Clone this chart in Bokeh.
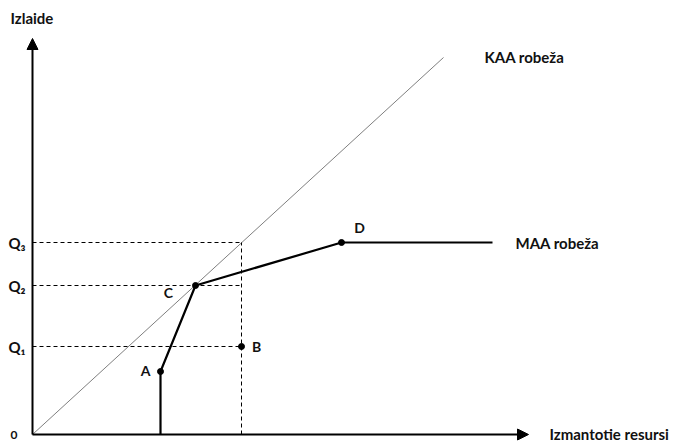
from bokeh.plotting import figure
from bokeh.models import Arrow, NormalHead, Range1d
from bokeh.core.properties import value
from bokeh.embed import file_html
from bokeh.resources import INLINE

# Diagram values (abstract units, origin at 0)
q_levels = [88, 149, 192]           # Q1, Q2, Q3
q_labels = ["Q\u2081", "Q\u2082", "Q\u2083"]
pt_names = ["A", "B", "C", "D"]
pt_x = [128, 209, 163, 309]
pt_y = [63, 88, 149, 192]
maa_x = [128, 128, 163, 309, 460]
maa_y = [0, 63, 149, 192, 192]
kaa_x = [0, 411]
kaa_y = [0, 377]
b_vert_x = [209, 209]
b_vert_y = [0, 192]
x_axis_end = 496
y_axis_end = 396

FONT = value("Lato")

p = figure(width=677, height=442, output_backend="svg", toolbar_location=None,
           x_range=Range1d(-32, 645), y_range=Range1d(-8, 434), min_border=0)
p.axis.visible = False
p.grid.visible = False
p.outline_line_color = None

# axes with arrows
p.add_layout(Arrow(end=NormalHead(size=11, fill_color="black", line_color="black"),
                   x_start=0, y_start=0, x_end=x_axis_end, y_end=0, line_width=2))
p.add_layout(Arrow(end=NormalHead(size=11, fill_color="black", line_color="black"),
                   x_start=0, y_start=0, x_end=0, y_end=y_axis_end, line_width=2))

# KAA boundary
p.line(kaa_x, kaa_y, line_color="#7f7f7f", line_width=1)

# dashed guide lines
for q in q_levels:
    p.line([0, b_vert_x[0]], [q, q], line_color="black", line_width=1, line_dash="4 3")
p.line(b_vert_x, b_vert_y, line_color="black", line_width=1, line_dash="4 3")

# MAA boundary
p.line(maa_x, maa_y, line_color="black", line_width=2.2)

# points
p.scatter(pt_x, pt_y, size=6, color="black")

tc = "#111111"
# point labels
lab_dx = [-15, 15, -27, 18]
lab_dy = [1, 0, -7, 15]
p.text([x + dx for x, dx in zip(pt_x, lab_dx)], [y + dy for y, dy in zip(pt_y, lab_dy)],
       text=pt_names, text_font=FONT, text_font_style="bold", text_font_size="14px",
       text_align="center", text_baseline="middle", text_color=tc)

# Q labels
p.text([-24] * 3, q_levels, text=q_labels, text_font=FONT, text_font_style="bold",
       text_font_size="15px", text_align="left", text_baseline="middle", text_color=tc)

p.text([-22], [0], text=["0"], text_font=FONT, text_font_style="bold", text_font_size="12px",
       text_align="left", text_baseline="middle", text_color=tc)
p.text([-22], [417], text=["Izlaide"], text_font=FONT, text_font_style="bold",
       text_font_size="15px", text_align="left", text_baseline="middle", text_color=tc)
p.text([452], [378], text=["KAA robeža"], text_font=FONT, text_font_style="bold",
       text_font_size="15px", text_align="left", text_baseline="middle", text_color=tc)
p.text([483], [192], text=["MAA robeža"], text_font=FONT, text_font_style="bold",
       text_font_size="15px", text_align="left", text_baseline="middle", text_color=tc)
p.text([517], [1], text=["Izmantotie resursi"], text_font=FONT, text_font_style="bold",
       text_font_size="15px", text_align="left", text_baseline="middle", text_color=tc)

open("out.html", "w").write(file_html(p, INLINE))
